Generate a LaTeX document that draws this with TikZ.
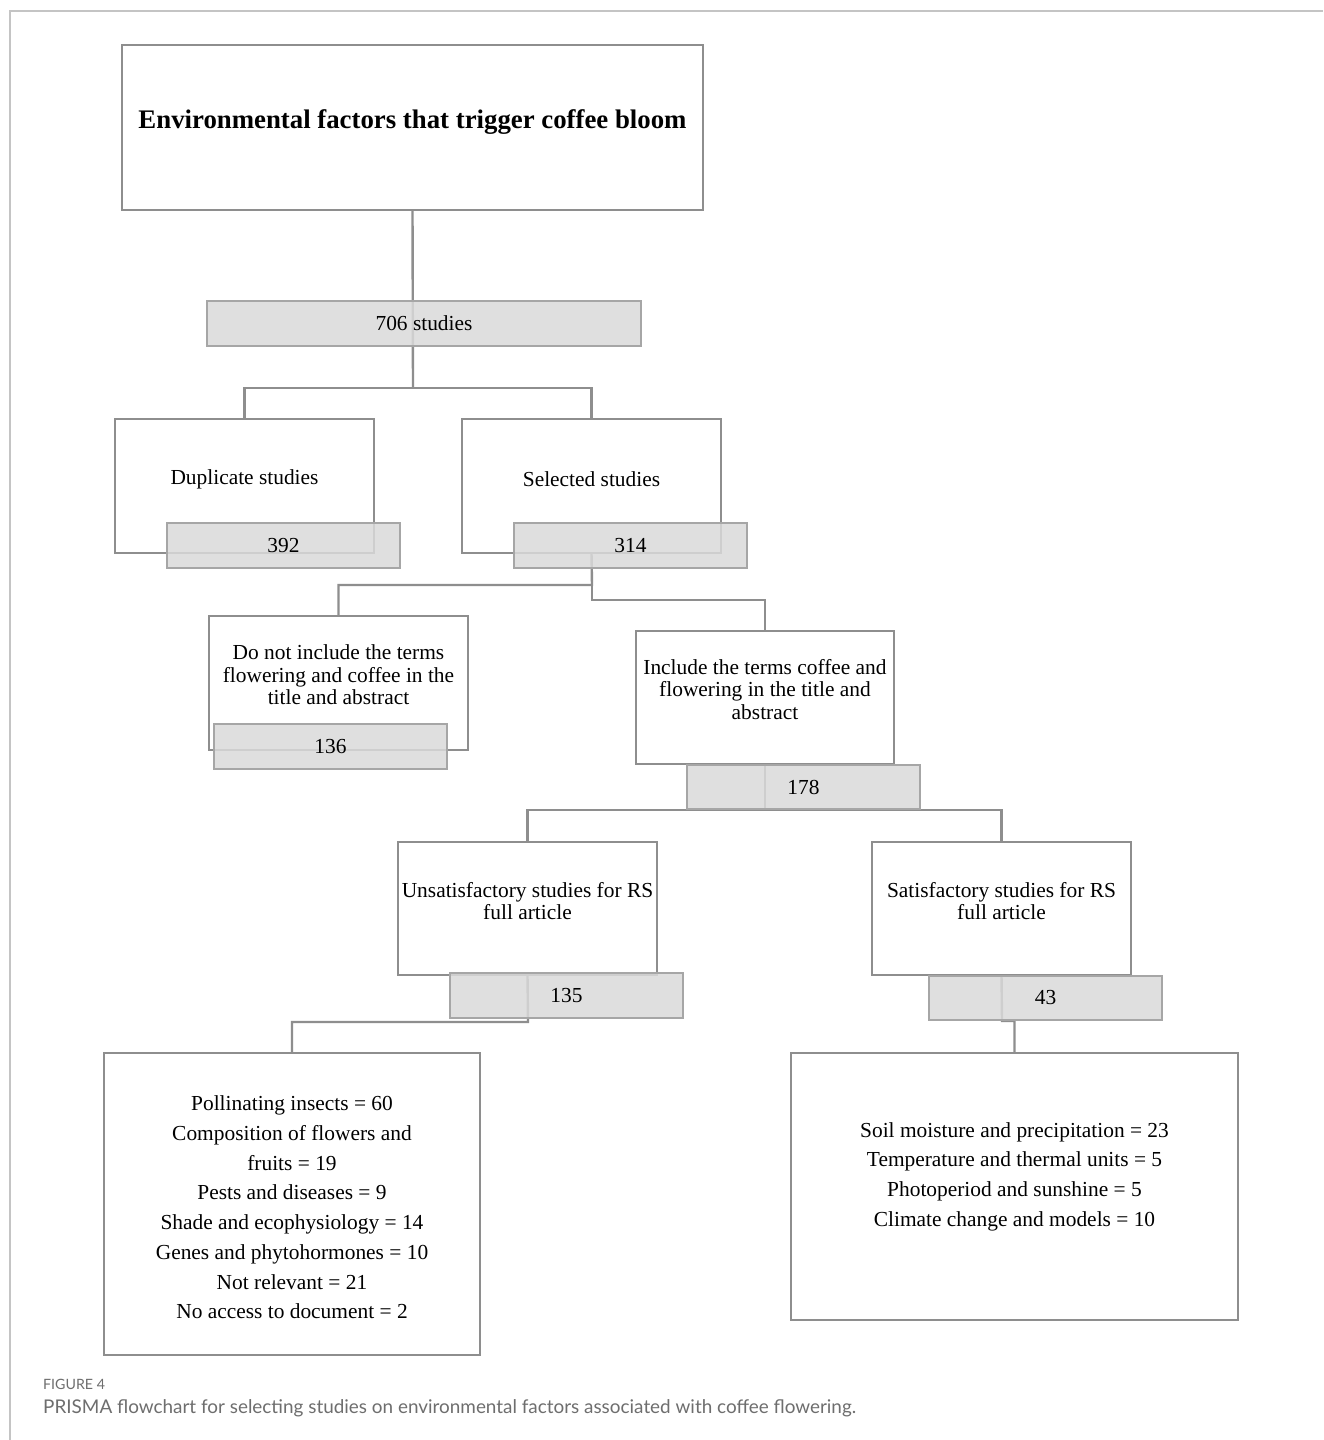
\documentclass[tikz,border=0pt]{standalone}
\usepackage{fontspec}
\setmainfont{Liberation Serif}
\newfontfamily\capfont{Lato}
\definecolor{boxline}{HTML}{8E8E8E}
\definecolor{grayline}{HTML}{A6A6A6}
\definecolor{grayfill}{HTML}{DADADA}
\definecolor{frameline}{HTML}{C4C4C4}
\definecolor{captxt}{HTML}{6E6E6E}
\begin{document}
\begin{tikzpicture}[x=1pt,y=-1pt,
  wbox/.style={draw=boxline,line width=2.4pt,fill=none,inner sep=0pt,outer sep=0pt},
  gbox/.style={draw=grayline,line width=2.4pt,fill=grayfill,fill opacity=0.85,text opacity=1,inner sep=0pt,outer sep=0pt,
     font=\fontsize{21.4}{22.6}\selectfont},
  txt/.style={align=center,inner sep=0pt,font=\fontsize{21.4}{22.6}\selectfont},
  listtxt/.style={align=center,inner sep=0pt,font=\fontsize{21.4}{29.7}\selectfont},
  conn/.style={draw=boxline,line width=2.4pt}]
\useasboundingbox (0,0) rectangle (1323,1440);
\fill[white] (0,0) rectangle (1323,1440);
% page frame
\draw[frameline,line width=1.5pt] (10,1440) -- (10,11) -- (1323,11);

% white boxes
\node[wbox,minimum width=581pt,minimum height=165pt] (title) at (412.5,127.5) {};
\node[inner sep=0pt,font=\bfseries\fontsize{26.8}{30}\selectfont] (titleT) at (412.5,122.5) {Environmental factors that trigger coffee bloom};

\node[wbox,minimum width=259pt,minimum height=134pt] (dup) at (244.5,486) {};
\node[txt] (dupT) at (244.5,479) {Duplicate studies};
\node[wbox,minimum width=259pt,minimum height=134pt] (sel) at (591.5,486) {};
\node[txt] (selT) at (591.5,479) {Selected studies};

\node[wbox,minimum width=259pt,minimum height=134pt] (donot) at (338.5,683) {};
\node[txt] (donotT) at (338.5,675) {Do not include the terms\\flowering and coffee in the\\title and abstract};
\node[wbox,minimum width=258pt,minimum height=133pt] (incl) at (765,697.5) {};
\node[txt] (inclT) at (765,689.5) {Include the terms coffee and\\flowering in the title and\\abstract};

\node[wbox,minimum width=259pt,minimum height=133pt] (unsat) at (527.5,908.5) {};
\node[txt] (unsatT) at (527.5,901) {Unsatisfactory studies for RS\\full article};
\node[wbox,minimum width=259pt,minimum height=133pt] (sat) at (1001.5,908.5) {};
\node[txt] (satT) at (1001.5,901) {Satisfactory studies for RS\\full article};

\node[wbox,minimum width=376pt,minimum height=302pt] (lbox) at (292,1204) {};
\node[listtxt] (lboxT) at (292,1207.5) {Pollinating insects = 60\\Composition of flowers and\\fruits = 19\\Pests and diseases = 9\\Shade and ecophysiology = 14\\Genes and phytohormones = 10\\Not relevant = 21\\No access to document = 2};
\node[wbox,minimum width=447pt,minimum height=267pt] (rbox) at (1014.5,1186.5) {};
\node[listtxt] (rboxT) at (1014.5,1176.5) {Soil moisture and precipitation = 23\\Temperature and thermal units = 5\\Photoperiod and sunshine = 5\\Climate change and models = 10};

% junctions
\coordinate (j1) at (413,388);
\coordinate (j2) at (592,585);
\coordinate (j3) at (592,600);
\coordinate (j4) at (765,810);
\coordinate (j5) at (528,1022);
\coordinate (j6) at (1002,1021);

% connectors
\draw[conn] (title.south) -- (j1);
\draw[conn] (dup.north) |- (j1) -| (sel.north);
\draw[conn] (sel.south) -- (j2) -| (donot.north);
\draw[conn] (j2) -- (j3) -| (incl.north);
\draw[conn] (incl.south) -- (j4);
\draw[conn] (unsat.north) |- (j4) -| (sat.north);
\draw[conn] (unsat.south) -- (j5) -| (lbox.north);
\draw[conn] (sat.south) -- (j6) -| (rbox.north);

% gray count boxes
\node[gbox,minimum width=434pt,minimum height=45pt] (n706) at (424,323.5) {706 studies};
\node[gbox,minimum width=233pt,minimum height=45pt] (n392) at (283.5,545.5) {392};
\node[gbox,minimum width=233pt,minimum height=45pt] (n314) at (630.5,545.5) {314};
\node[gbox,minimum width=233pt,minimum height=45pt] (n136) at (330.5,746.5) {136};
\node[gbox,minimum width=233pt,minimum height=44pt] (n178) at (803.5,787) {178};
\node[gbox,minimum width=233pt,minimum height=45pt] (n135) at (566.5,995.5) {135};
\node[gbox,minimum width=233pt,minimum height=44pt] (n43) at (1045.5,998) {43};

% caption
\node[anchor=west,inner sep=0pt,text=captxt,font=\capfont\fontsize{14.2}{16}\selectfont] (figlab) at (43,1384) {FIGURE 4};
\node[anchor=west,inner sep=0pt,text=captxt,font=\capfont\fontsize{18.9}{22}\selectfont] (cap) at (43,1408) {PRISMA flowchart for selecting studies on environmental factors associated with coffee flowering.};
\end{tikzpicture}
\end{document}
